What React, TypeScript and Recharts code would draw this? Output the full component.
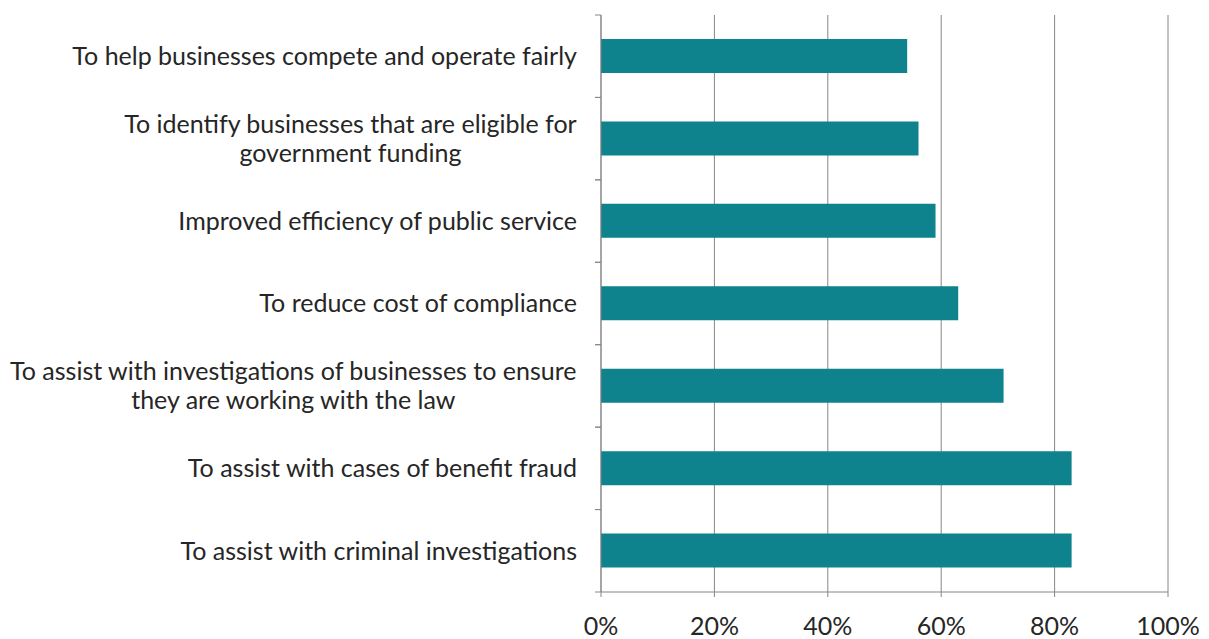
import React from 'react';
import { BarChart, Bar, XAxis, YAxis, CartesianGrid } from 'recharts';

const categories = [
  'To help businesses compete and operate fairly',
  'To identify businesses that are eligible for\ngovernment funding',
  'Improved efficiency of public service',
  'To reduce cost of compliance',
  'To assist with investigations of businesses to ensure\nthey are working with the law',
  'To assist with cases of benefit fraud',
  'To assist with criminal investigations',
];
const shares = [54, 56, 59, 63, 71, 83, 83];
const xTicks = [0, 20, 40, 60, 80, 100];

const data = categories.map((name, i) => ({ name, value: shares[i] }));

const FONT = 'Lato, "Open Sans", sans-serif';
const FONT_SIZE = 25;
const TEXT = '#262626';
const AXIS = '#868686';
const BAR = '#0e828d';

const W = 1209;
const H = 639;
const TOP = 15;
const BOTTOM_AXIS = 47;
const LEFT_AXIS = 601;
const RIGHT = 41;
const BAND = (H - TOP - BOTTOM_AXIS) / categories.length;

let ctx: CanvasRenderingContext2D | null = null;
const textWidth = (s: string) => {
  if (!ctx) ctx = document.createElement('canvas').getContext('2d');
  if (!ctx) return s.length * FONT_SIZE * 0.5;
  ctx.font = `${FONT_SIZE}px ${FONT}`;
  return ctx.measureText(s).width;
};

const CategoryTick = (props: any) => {
  const { x, y, payload } = props;
  const lines = String(payload.value).split('\n');
  const maxW = Math.max(...lines.map(textWidth));
  const lineH = 29;
  const start = y - ((lines.length - 1) * lineH) / 2;
  return (
    <g>
      <line x1={x + 18} x2={x + 24} y1={y - BAND / 2} y2={y - BAND / 2} stroke={AXIS} />
      <line x1={x + 18} x2={x + 24} y1={y + BAND / 2} y2={y + BAND / 2} stroke={AXIS} />
      {lines.map((l, i) => (
        <text
          key={i}
          x={lines.length > 1 ? x - maxW / 2 : x}
          y={start + i * lineH}
          dy="0.35em"
          textAnchor={lines.length > 1 ? 'middle' : 'end'}
          fill={TEXT}
          fontSize={FONT_SIZE}
          fontFamily={FONT}
        >
          {l}
        </text>
      ))}
    </g>
  );
};

export default function App() {
  return (
    <div style={{ position: 'absolute', left: 0, top: 0, width: W, height: H, background: '#fff' }}>
      <BarChart
        width={W}
        height={H}
        data={data}
        layout="vertical"
        margin={{ top: TOP, right: RIGHT, bottom: 0, left: 0 }}
      >
        <CartesianGrid horizontal={false} stroke={AXIS} strokeWidth={1} />
        <XAxis
          type="number"
          domain={[0, 100]}
          ticks={xTicks}
          tickFormatter={(v: number) => `${v}%`}
          height={BOTTOM_AXIS}
          stroke={AXIS}
          tickSize={5}
          tickMargin={20}
          tick={{ fill: TEXT, fontSize: FONT_SIZE, fontFamily: FONT }}
        />
        <YAxis
          type="category"
          dataKey="name"
          width={LEFT_AXIS}
          stroke={AXIS}
          tickLine={false}
          tickSize={6}
          tickMargin={18}
          interval={0}
          tick={<CategoryTick />}
        />
        <Bar dataKey="value" fill={BAR} barSize={34} isAnimationActive={false} />
      </BarChart>
    </div>
  );
}
